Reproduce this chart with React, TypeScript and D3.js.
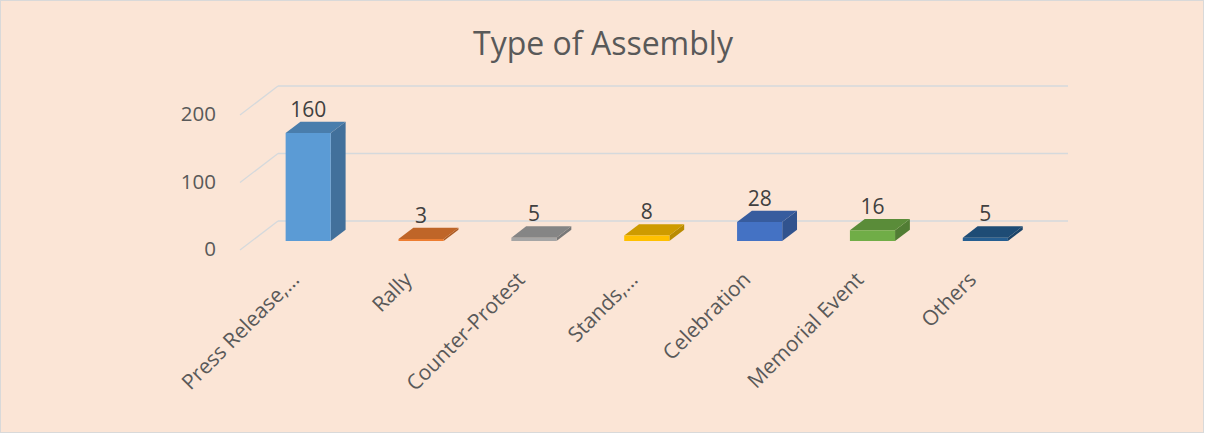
import React from "react";
import * as d3 from "d3";

const categories = ["Press Release,…", "Rally", "Counter-Protest", "Stands,…", "Celebration", "Memorial Event", "Others"];
const values = [160, 3, 5, 8, 28, 16, 5];
const yTicks = [0, 100, 200];
const frontColors = ["#5B9BD5", "#ED7D31", "#A5A5A5", "#FFC000", "#4472C4", "#70AD47", "#255E91"];
const title = "Type of Assembly";

const W = 1205;
const H = 434;
const FONT = "'Open Sans', 'DejaVu Sans', sans-serif";
const TEXT = "#595959";

export default function App() {
  const floorY = 250;
  const DX = 38;
  const DY = -29;
  const d0 = 0.31;
  const d1 = 0.70;

  const x = d3.scaleBand<string>().domain(categories).range([240, 1030]).paddingInner(0.6).paddingOuter(0.3);
  const y = d3.scaleLinear().domain([0, 200]).range([0, 135]);

  const P = (xf: number, v: number, d: number): [number, number] => [xf + DX * d, floorY - y(v) + DY * d];
  const pts = (arr: [number, number][]) => arr.map((p) => p.join(",")).join(" ");

  const bw = x.bandwidth();

  return (
    <svg width={W} height={H} style={{ position: "absolute", left: 0, top: 0 }} fontFamily={FONT}>
      <rect x={0.5} y={0.5} width={W - 2} height={H - 2} fill="#FBE5D6" stroke="#D9D9D9" />
      <text x={603} y={46} textAnchor="middle" dominantBaseline="middle" fontSize={32} fill={TEXT}>
        {title}
      </text>
      {yTicks.map((t) => {
        const [lx0, ly0] = P(240, t, 0);
        const [lx1, ly1] = P(240, t, 1);
        const [rx1] = P(1030, t, 1);
        return (
          <g key={t}>
            <line x1={lx0} y1={ly0} x2={lx1} y2={ly1} stroke="#D5D9DC" strokeWidth={1.3} />
            <line x1={lx1} y1={ly1} x2={rx1} y2={ly1} stroke="#D5D9DC" strokeWidth={1.3} />
            <text x={216} y={ly0 + 1} textAnchor="end" dominantBaseline="middle" fontSize={20.5} fill={TEXT}>
              {t}
            </text>
          </g>
        );
      })}
      {categories.map((c, i) => {
        const v = values[i];
        const xl = x(c)!;
        const xr = xl + bw;
        const fc = frontColors[i];
        const top = d3.color(fc)!.darker(0.6).formatHex();
        const side = d3.color(fc)!.darker(0.9).formatHex();
        const fbl = P(xl, 0, d0), fbr = P(xr, 0, d0), ftl = P(xl, v, d0), ftr = P(xr, v, d0);
        const bbr = P(xr, 0, d1), btl = P(xl, v, d1), btr = P(xr, v, d1);
        return (
          <g key={c}>
            <polygon points={pts([fbr, bbr, btr, ftr])} fill={side} />
            <polygon points={pts([ftl, ftr, btr, btl])} fill={top} />
            <polygon points={pts([fbl, fbr, ftr, ftl])} fill={fc} />
            <text x={(ftl[0] + ftr[0]) / 2} y={btl[1] - 5} textAnchor="middle" fontSize={21} fill="#404040">
              {v}
            </text>
            <text
              transform={`translate(${xl + bw / 2 + 4},${281}) rotate(-45)`}
              textAnchor="end"
              fontSize={21}
              fill={TEXT}
            >
              {c}
            </text>
          </g>
        );
      })}
    </svg>
  );
}
